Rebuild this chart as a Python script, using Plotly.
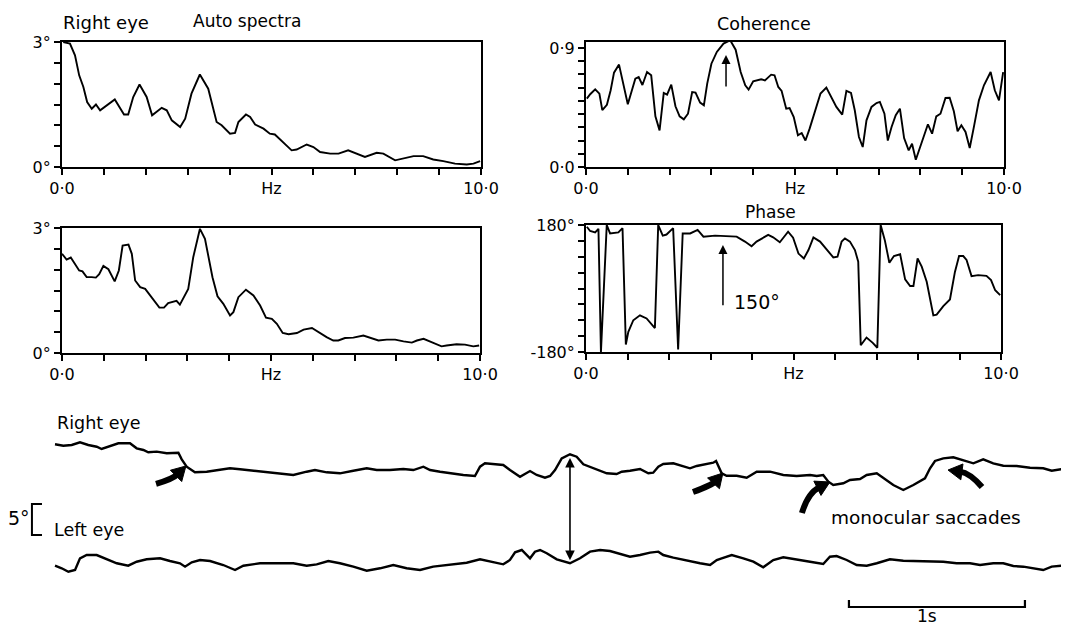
import plotly.graph_objects as go

# ---------------- DATA ----------------
# Auto spectra, right eye (Hz, degrees)
freq_right = [0.03, 0.19, 0.31, 0.41, 0.51, 0.60, 0.71, 0.81, 0.91, 1.07, 1.26, 1.48, 1.58, 1.70, 1.85,
              2.02, 2.15, 2.38, 2.50, 2.62, 2.82, 2.94, 3.09, 3.29, 3.49, 3.69, 3.81, 4.01, 4.13, 4.21,
              4.39, 4.49, 4.61, 4.81, 4.96, 5.08, 5.28, 5.48, 5.60, 5.84, 6.00, 6.16, 6.40, 6.60, 6.83,
              6.99, 7.23, 7.51, 7.67, 7.95, 8.19, 8.39, 8.62, 8.86, 9.10, 9.38, 9.66, 9.82, 9.98]
spec_right = [3.00, 2.96, 2.68, 2.20, 1.92, 1.56, 1.40, 1.50, 1.36, 1.48, 1.62, 1.26, 1.26, 1.68, 1.98,
              1.68, 1.24, 1.42, 1.36, 1.12, 0.96, 1.16, 1.76, 2.22, 1.88, 1.08, 1.00, 0.80, 0.82, 1.08,
              1.26, 1.20, 1.02, 0.92, 0.80, 0.78, 0.60, 0.40, 0.42, 0.54, 0.48, 0.36, 0.32, 0.32, 0.40,
              0.34, 0.24, 0.34, 0.32, 0.16, 0.22, 0.26, 0.26, 0.18, 0.14, 0.08, 0.06, 0.08, 0.14]

# Auto spectra, left eye (Hz, degrees)
freq_left = [0.00, 0.11, 0.21, 0.31, 0.41, 0.49, 0.59, 0.71, 0.81, 0.89, 0.99, 1.11, 1.26, 1.36, 1.45,
             1.59, 1.67, 1.75, 1.87, 1.99, 2.15, 2.33, 2.44, 2.54, 2.74, 2.82, 3.02, 3.14, 3.30, 3.42,
             3.60, 3.72, 3.86, 4.02, 4.10, 4.22, 4.40, 4.58, 4.74, 4.88, 5.02, 5.14, 5.28, 5.42, 5.62,
             5.78, 5.98, 6.16, 6.33, 6.49, 6.61, 6.77, 6.97, 7.21, 7.37, 7.57, 7.77, 7.97, 8.17, 8.37,
             8.49, 8.65, 8.84, 9.08, 9.20, 9.44, 9.64, 9.84, 9.98]
spec_left = [2.38, 2.24, 2.29, 2.14, 1.98, 1.96, 1.82, 1.82, 1.81, 1.89, 2.09, 2.01, 1.72, 1.98, 2.58,
             2.60, 2.38, 1.74, 1.58, 1.54, 1.34, 1.09, 1.09, 1.20, 1.25, 1.16, 1.54, 2.30, 2.98, 2.74,
             1.82, 1.36, 1.18, 0.90, 0.98, 1.34, 1.52, 1.38, 1.14, 0.85, 0.82, 0.70, 0.48, 0.45, 0.48,
             0.56, 0.60, 0.48, 0.38, 0.30, 0.30, 0.36, 0.37, 0.42, 0.37, 0.30, 0.32, 0.32, 0.28, 0.25,
             0.30, 0.34, 0.26, 0.16, 0.18, 0.21, 0.20, 0.16, 0.18]

# Coherence (Hz, 0..1)
freq_coh = [0.02, 0.10, 0.22, 0.32, 0.39, 0.50, 0.59, 0.67, 0.79, 1.00, 1.18, 1.26, 1.35, 1.46, 1.56,
            1.66, 1.76, 1.86, 1.94, 2.04, 2.14, 2.24, 2.34, 2.44, 2.54, 2.62, 2.73, 2.82, 2.90, 3.00,
            3.13, 3.29, 3.45, 3.58, 3.70, 3.81, 3.89, 4.00, 4.19, 4.28, 4.43, 4.51, 4.60, 4.68, 4.79,
            4.87, 4.97, 5.07, 5.16, 5.25, 5.35, 5.49, 5.61, 5.75, 5.87, 5.99, 6.13, 6.23, 6.34, 6.43,
            6.53, 6.62, 6.71, 6.83, 6.95, 7.03, 7.14, 7.22, 7.31, 7.41, 7.51, 7.61, 7.72, 7.80, 7.89,
            8.04, 8.18, 8.28, 8.38, 8.48, 8.60, 8.70, 8.80, 8.89, 8.98, 9.08, 9.18, 9.28, 9.40, 9.52,
            9.68, 9.78, 9.88, 9.98]
coherence = [0.517, 0.550, 0.587, 0.555, 0.430, 0.470, 0.580, 0.713, 0.774, 0.474, 0.668, 0.680, 0.620, 0.718, 0.693,
             0.383, 0.277, 0.560, 0.547, 0.623, 0.459, 0.383, 0.360, 0.403, 0.567, 0.562, 0.487, 0.466, 0.630, 0.781,
             0.870, 0.933, 0.958, 0.887, 0.718, 0.618, 0.585, 0.648, 0.663, 0.655, 0.698, 0.693, 0.605, 0.575, 0.441,
             0.446, 0.378, 0.240, 0.257, 0.200, 0.290, 0.429, 0.555, 0.600, 0.530, 0.454, 0.396, 0.575, 0.560, 0.429,
             0.227, 0.151, 0.353, 0.454, 0.484, 0.492, 0.403, 0.200, 0.303, 0.391, 0.441, 0.219, 0.126, 0.176, 0.055,
             0.189, 0.323, 0.252, 0.383, 0.403, 0.522, 0.524, 0.421, 0.270, 0.315, 0.265, 0.144, 0.303, 0.504, 0.618,
             0.718, 0.580, 0.504, 0.718]

# Phase (Hz, degrees)
freq_phase = [0.02, 0.10, 0.22, 0.30, 0.36, 0.50, 0.58, 0.78, 0.88, 0.96, 1.02, 1.14, 1.30, 1.46, 1.66,
              1.74, 1.85, 1.94, 2.10, 2.22, 2.33, 2.51, 2.69, 2.83, 3.11, 3.63, 3.83, 3.99, 4.11, 4.23,
              4.39, 4.51, 4.67, 4.87, 4.99, 5.12, 5.25, 5.36, 5.48, 5.64, 5.80, 5.96, 6.06, 6.16, 6.24,
              6.36, 6.48, 6.56, 6.62, 6.76, 6.91, 7.02, 7.10, 7.20, 7.31, 7.42, 7.57, 7.69, 7.81, 7.89,
              7.99, 8.09, 8.21, 8.37, 8.45, 8.61, 8.77, 8.89, 8.99, 9.09, 9.17, 9.29, 9.45, 9.65, 9.76,
              9.86, 9.98]
phase = [175, 163, 159, 169, -180, 180, 156, 159, 171, -159, -123, -90, -76, -85, -112,
         180, 150, 153, 171, -173, 156, 156, 166, 147, 150, 147, 133, 120, 133, 142,
         152, 145, 131, 161, 144, 99, 85, 109, 145, 133, 109, 88, 90, 133, 142,
         133, 109, 76, -161, -139, -154, -168, 180, 137, 73, 92, 97, 26, 7, 7,
         85, 62, 19, -76, -74, -50, -31, 47, 92, 92, 81, 35, 38, 36, 24,
         -5, -19]

# Eye position traces (seconds, degrees)
t_right = [0.000, 0.047, 0.095, 0.142, 0.189, 0.237, 0.265, 0.313, 0.360, 0.426, 0.464, 0.502, 0.530, 0.578,
           0.635, 0.701, 0.720, 0.748, 0.795, 0.862, 0.938, 0.994, 1.051, 1.127, 1.203, 1.278, 1.354, 1.430,
           1.477, 1.544, 1.619, 1.695, 1.771, 1.828, 1.903, 1.979, 2.036, 2.093, 2.131, 2.188, 2.244, 2.320,
           2.386, 2.415, 2.443, 2.490, 2.547, 2.585, 2.642, 2.699, 2.737, 2.784, 2.813, 2.841, 2.879, 2.926,
           2.964, 3.002, 3.059, 3.135, 3.191, 3.220, 3.267, 3.324, 3.371, 3.399, 3.428, 3.456, 3.513, 3.570,
           3.608, 3.646, 3.703, 3.740, 3.756, 3.769, 3.788, 3.816, 3.873, 3.930, 3.987, 4.063, 4.138, 4.214,
           4.290, 4.328, 4.365, 4.394, 4.422, 4.479, 4.517, 4.574, 4.612, 4.669, 4.726, 4.763, 4.820, 4.877,
           4.943, 4.972, 5.000, 5.047, 5.104, 5.161, 5.218, 5.274, 5.331, 5.388, 5.464, 5.540, 5.615, 5.663,
           5.761]
right_eye = [29.63, 29.40, 29.52, 29.95, 29.52, 29.24, 28.87, 29.40, 29.79, 29.79, 28.98, 28.71, 28.34, 28.44,
             28.18, 28.27, 27.21, 26.02, 25.11, 25.21, 25.48, 25.76, 25.60, 25.37, 25.21, 24.95, 24.68, 25.21,
             25.48, 25.11, 24.95, 25.37, 25.76, 25.48, 25.48, 25.65, 25.48, 26.02, 25.48, 25.21, 24.95, 24.68,
             24.52, 26.02, 26.56, 26.45, 26.29, 25.48, 24.40, 25.32, 24.68, 24.24, 24.52, 25.48, 27.37, 28.02,
             27.63, 26.40, 25.76, 24.95, 24.84, 25.21, 25.37, 25.65, 24.95, 25.05, 26.02, 26.45, 26.56, 26.02,
             25.76, 26.13, 26.40, 26.66, 26.94, 26.13, 24.95, 24.56, 24.56, 24.24, 25.21, 25.21, 24.68, 24.52,
             24.68, 24.52, 24.68, 23.60, 23.06, 23.34, 23.87, 24.03, 24.68, 24.95, 23.87, 23.06, 22.26, 23.06,
             24.15, 25.76, 26.94, 27.37, 27.53, 27.10, 26.56, 27.21, 26.56, 26.18, 26.13, 25.85, 25.76, 25.37,
             25.81]
t_left = [0.000, 0.038, 0.076, 0.114, 0.142, 0.180, 0.237, 0.294, 0.351, 0.416, 0.464, 0.521, 0.597, 0.653,
          0.710, 0.739, 0.777, 0.824, 0.881, 0.956, 1.023, 1.070, 1.165, 1.260, 1.354, 1.430, 1.487, 1.553,
          1.619, 1.695, 1.771, 1.847, 1.922, 1.998, 2.074, 2.149, 2.244, 2.339, 2.415, 2.490, 2.547, 2.585,
          2.614, 2.652, 2.699, 2.727, 2.756, 2.794, 2.851, 2.926, 2.983, 3.040, 3.097, 3.153, 3.210, 3.267,
          3.324, 3.381, 3.428, 3.456, 3.513, 3.589, 3.665, 3.722, 3.760, 3.788, 3.845, 3.911, 3.968, 4.024,
          4.081, 4.138, 4.214, 4.290, 4.365, 4.403, 4.441, 4.498, 4.555, 4.612, 4.669, 4.744, 4.820, 4.896,
          4.972, 5.047, 5.123, 5.199, 5.256, 5.331, 5.388, 5.445, 5.502, 5.559, 5.615, 5.663, 5.761]
left_eye = [10.05, 9.63, 9.08, 9.35, 11.24, 11.77, 11.77, 11.08, 10.44, 10.05, 10.69, 11.08, 11.24, 10.81,
            10.44, 9.89, 10.60, 10.97, 10.81, 10.16, 9.35, 10.05, 10.44, 10.44, 10.44, 10.05, 10.27, 10.81,
            10.44, 9.89, 9.24, 9.63, 10.16, 9.63, 9.35, 9.89, 10.27, 10.53, 11.08, 10.60, 10.27, 10.97,
            12.21, 12.58, 11.24, 12.31, 12.58, 12.05, 11.08, 10.44, 11.24, 12.31, 12.58, 12.42, 11.94, 11.50,
            11.77, 12.15, 12.31, 11.77, 11.34, 10.85, 10.44, 10.16, 10.97, 11.24, 11.77, 11.24, 10.69, 9.79,
            10.97, 11.40, 11.08, 10.69, 10.32, 11.50, 11.61, 10.97, 10.16, 10.05, 10.44, 11.08, 10.85, 10.81,
            10.69, 10.69, 10.44, 10.44, 10.16, 10.44, 10.44, 10.00, 9.89, 9.63, 9.35, 9.89, 10.16]

# Tick labels
hz_ticks = ["0·0", "", "", "", "", "Hz", "", "", "", "", "10·0"]
spec_ticks = ["0°", "", "", "", "", "", "3°"]
coh_ticks = ["0·0", "", "", "", "", "", "", "", "", "0·9"]
phase_ticks = ["-180°", "", "", "", "", "", "", "", "180°"]

# ---------------- FIGURE ----------------
PAGE_W, PAGE_H = 1069, 628
OFF = 8                      # default page margin around the plot div
W, H = PAGE_W - OFF, PAGE_H - OFF
FONT = "DejaVu Sans"
PX_PER_SEC = 176.0
PX_PER_DEG = 6.2
TRACE_X0 = 55                # page x where the eye traces start (t = 0)
BOTTOM_TOP = 390             # page y of the top of the eye-trace region


def dx(a, b):
    return [(a - OFF) / W, (b - OFF) / W]


def dy(top, bot):
    return [1 - (bot - OFF) / H, 1 - (top - OFF) / H]


fig = go.Figure()
line = dict(color="black", width=1.9)
fig.add_trace(go.Scatter(x=freq_right, y=spec_right, xaxis="x", yaxis="y", mode="lines", line=line))
fig.add_trace(go.Scatter(x=freq_coh, y=coherence, xaxis="x2", yaxis="y2", mode="lines", line=line))
fig.add_trace(go.Scatter(x=freq_left, y=spec_left, xaxis="x3", yaxis="y3", mode="lines", line=line))
fig.add_trace(go.Scatter(x=freq_phase, y=phase, xaxis="x4", yaxis="y4", mode="lines", line=line))
eye_line = dict(color="black", width=2.4)
fig.add_trace(go.Scatter(x=t_right, y=right_eye, xaxis="x5", yaxis="y5", mode="lines", line=eye_line))
fig.add_trace(go.Scatter(x=t_left, y=left_eye, xaxis="x5", yaxis="y5", mode="lines", line=eye_line))

tickfont = dict(size=16, color="black", family=FONT)


def base_axis(**kw):
    d = dict(ticks="outside", ticklen=6, tickwidth=1.5, tickcolor="black", showline=True,
             linecolor="black", linewidth=2, mirror=True, showgrid=False, zeroline=False,
             tickfont=tickfont, fixedrange=True, automargin=False)
    d.update(kw)
    return d


hz_vals = list(range(11))
fig.update_layout(
    template="none",
    xaxis=base_axis(domain=dx(62, 481), anchor="y", range=[0, 10], tickvals=hz_vals, ticktext=hz_ticks),
    yaxis=base_axis(domain=dy(42, 167), anchor="x", range=[0, 3],
                    tickvals=[0, 0.5, 1, 1.5, 2, 2.5, 3], ticktext=spec_ticks),
    xaxis2=base_axis(domain=dx(586, 1004), anchor="y2", range=[0, 10], tickvals=hz_vals, ticktext=hz_ticks),
    yaxis2=base_axis(domain=dy(42, 167), anchor="x2", range=[0, 0.945],
                     tickvals=[i / 10 for i in range(10)], ticktext=coh_ticks),
    xaxis3=base_axis(domain=dx(62, 480), anchor="y3", range=[0, 10], tickvals=hz_vals, ticktext=hz_ticks),
    yaxis3=base_axis(domain=dy(228, 353), anchor="x3", range=[0, 3],
                     tickvals=[0, 0.5, 1, 1.5, 2, 2.5, 3], ticktext=spec_ticks),
    xaxis4=base_axis(domain=dx(586, 1001), anchor="y4", range=[0, 10], tickvals=hz_vals, ticktext=hz_ticks),
    yaxis4=base_axis(domain=dy(225, 352), anchor="x4", range=[-180, 180],
                     tickvals=[-180, -135, -90, -45, 0, 45, 90, 135, 180], ticktext=phase_ticks),
    xaxis5=dict(domain=[0, 1], anchor="y5",
                range=[(OFF - TRACE_X0) / PX_PER_SEC, (PAGE_W - TRACE_X0) / PX_PER_SEC],
                visible=False, fixedrange=True, automargin=False),
    yaxis5=dict(domain=[0, (PAGE_H - BOTTOM_TOP) / H], anchor="x5",
                range=[0, (PAGE_H - BOTTOM_TOP) / PX_PER_DEG], visible=False,
                fixedrange=True, automargin=False),
    width=W, height=H, margin=dict(l=0, r=0, t=0, b=0, pad=0), autosize=False,
    paper_bgcolor="white", plot_bgcolor="white", showlegend=False,
    font=dict(family=FONT, color="black"),
)

ann = []


def ptext(text, xpx, ypx, size=16):
    ann.append(dict(text=text, x=(xpx - OFF) / W, y=1 - (ypx - OFF) / H, xref="paper", yref="paper",
                    showarrow=False, font=dict(size=size, family=FONT, color="black"),
                    xanchor="center", yanchor="middle"))


ptext("Right eye", 106, 23, 18)
ptext("Auto spectra", 247, 21, 17)
ptext("Coherence", 764, 24, 17.5)
ptext("Phase", 770, 212, 17)

# arrows in spectra panels
ann.append(dict(x=3.35, y=0.847, ax=3.35, ay=0.597, xref="x2", yref="y2", axref="x2", ayref="y2",
                text="", showarrow=True, arrowhead=2, arrowsize=1.2, arrowwidth=1.5, arrowcolor="black"))
ann.append(dict(x=3.30, y=123, ax=3.30, ay=-52, xref="x4", yref="y4", axref="x4", ayref="y4",
                text="", showarrow=True, arrowhead=2, arrowsize=1.2, arrowwidth=1.5, arrowcolor="black"))
ann.append(dict(x=4.12, y=-38, xref="x4", yref="y4", text="150°", showarrow=False,
                font=dict(size=19, family=FONT, color="black")))


# bottom panel annotations
def dtext(text, x, y, size=16, anchor="center"):
    ann.append(dict(text=text, x=x, y=y, xref="x5", yref="y5", showarrow=False,
                    font=dict(size=size, family=FONT, color="black"), xanchor=anchor, yanchor="middle"))


dtext("Right eye", 0.0, 33.06, 17.5, "left")
dtext("Left eye", -0.017, 15.8, 17.5, "left")
dtext("5°", -0.205, 17.74, 19)
dtext("monocular saccades", 4.949, 17.9, 18.5)
dtext("1s", 4.955, 1.95, 17)

# double-headed vertical arrow between traces
ann.append(dict(x=2.926, y=27.42, ax=2.926, ay=10.69, xref="x5", yref="y5", axref="x5", ayref="y5",
                text="", showarrow=True, arrowhead=2, arrowside="end+start", arrowsize=1.2,
                arrowwidth=1.6, arrowcolor="black"))
fig.update_layout(annotations=ann)

shapes = []
# 5 degree bracket
shapes.append(dict(type="path", xref="x5", yref="y5",
                   path="M -0.074,20.0 L -0.131,20.0 L -0.131,15.0 L -0.074,15.0",
                   line=dict(color="black", width=2)))
# 1 s scale bar
shapes.append(dict(type="path", xref="x5", yref="y5",
                   path="M 4.511,4.52 L 4.511,3.39 L 5.511,3.39 L 5.511,4.52",
                   line=dict(color="black", width=2.2)))


def curved_arrow(tail, ctrl, tip, head_len=14, half_w=8, body_w=6):
    # work in pixel space for geometry, then convert back to data units
    def to_px(p):
        return (p[0] * PX_PER_SEC, p[1] * PX_PER_DEG)

    def to_d(p):
        return (p[0] / PX_PER_SEC, p[1] / PX_PER_DEG)

    T, C, P = to_px(tail), to_px(ctrl), to_px(tip)
    vx, vy = P[0] - C[0], P[1] - C[1]
    n = (vx ** 2 + vy ** 2) ** 0.5
    ux, uy = vx / n, vy / n
    base = (P[0] - ux * head_len, P[1] - uy * head_len)
    b1 = (base[0] - uy * half_w, base[1] + ux * half_w)
    b2 = (base[0] + uy * half_w, base[1] - ux * half_w)
    t, c, b = to_d(T), to_d(C), to_d((base[0] + ux * 2, base[1] + uy * 2))
    body = f"M {t[0]},{t[1]} Q {c[0]},{c[1]} {b[0]},{b[1]}"
    p1, p2, pt = to_d(b1), to_d(b2), to_d(P)
    head = f"M {p1[0]},{p1[1]} L {pt[0]},{pt[1]} L {p2[0]},{p2[1]} Z"
    shapes.append(dict(type="path", xref="x5", yref="y5", path=body,
                       line=dict(color="black", width=body_w)))
    shapes.append(dict(type="path", xref="x5", yref="y5", path=head,
                       fillcolor="black", line=dict(color="black", width=1)))


curved_arrow((0.574, 23.23), (0.670, 24.03), (0.744, 26.13))
curved_arrow((3.625, 21.94), (3.733, 23.06), (3.795, 25.00))
curved_arrow((4.244, 18.55), (4.278, 21.77), (4.403, 23.55))
curved_arrow((5.267, 22.74), (5.199, 25.00), (5.074, 25.48))

fig.update_layout(shapes=shapes)
fig.write_html("out.html")
